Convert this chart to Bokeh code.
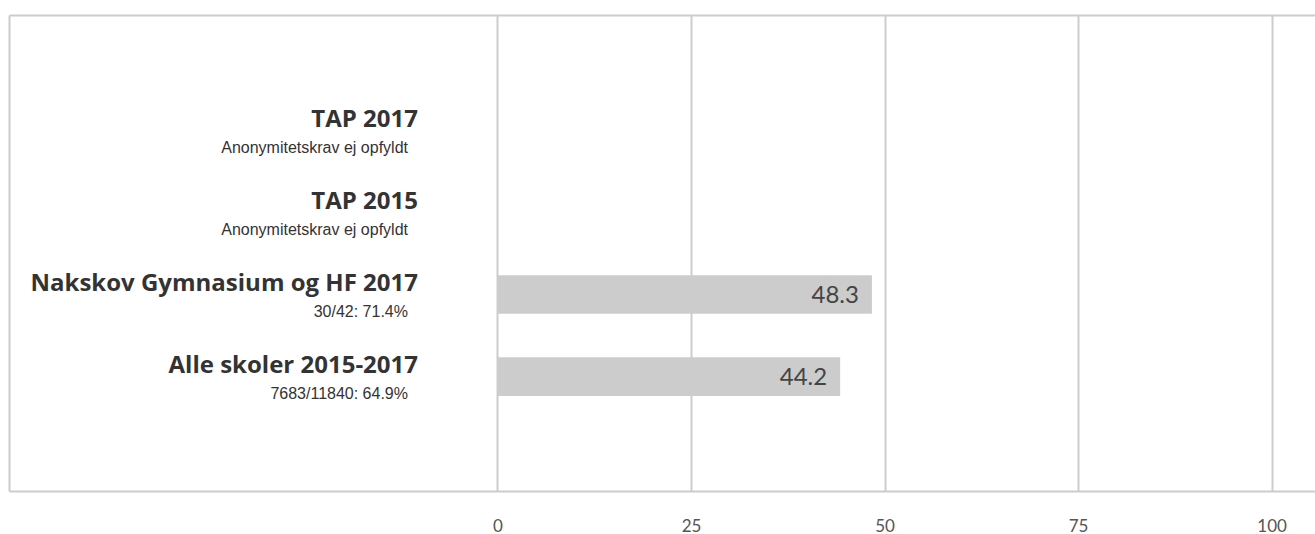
from bokeh.plotting import figure
from bokeh.models import ColumnDataSource, Range1d, LinearAxis, FixedTicker
from bokeh.core.properties import value
from bokeh.embed import file_html
from bokeh.resources import INLINE

categories = ["TAP 2017", "TAP 2015", "Nakskov Gymnasium og HF 2017", "Alle skoler 2015-2017"]
subtitles = ["Anonymitetskrav ej opfyldt", "Anonymitetskrav ej opfyldt", "30/42: 71.4%", "7683/11840: 64.9%"]
scores = [None, None, 48.3, 44.2]
x_ticks = [0, 25, 50, 75, 100]

n = len(categories)
ypos = [n - 1 - i for i in range(n)]

label_src = ColumnDataSource(dict(
    x=[0] * n, y=ypos, title=categories, sub=subtitles))
bar_idx = [i for i, v in enumerate(scores) if v is not None]
bar_src = ColumnDataSource(dict(
    y=[ypos[i] for i in bar_idx],
    v=[scores[i] for i in bar_idx],
    lbl=["%.1f" % scores[i] for i in bar_idx]))

p = figure(width=1315, height=534, output_backend="svg", toolbar_location=None,
           x_range=Range1d(-63.1, 105.6), y_range=Range1d(-1.4, n - 1 + 1.4),
           min_border_left=9, min_border_right=0, min_border_top=15, min_border_bottom=0,
           x_axis_location="below", y_axis_location="left")
p.background_fill_color = "white"
p.border_fill_color = "white"
p.outline_line_color = None

# bottom axis
xa = p.xaxis[0]
xa.ticker = FixedTicker(ticks=x_ticks)
xa.axis_line_color = "#cccccc"
xa.axis_line_width = 2
xa.major_tick_line_color = None
xa.minor_tick_line_color = None
xa.major_tick_out = 0
xa.major_tick_in = 0
xa.major_label_standoff = 27
xa.major_label_text_font = "Lato"
xa.major_label_text_font_size = "17px"
xa.major_label_text_color = "#555555"

# left border axis (line only)
ya = p.yaxis[0]
ya.ticker = FixedTicker(ticks=[])
ya.axis_line_color = "#cccccc"
ya.axis_line_width = 2
ya.major_tick_line_color = None
ya.minor_tick_line_color = None
ya.major_tick_out = 0
ya.major_tick_in = 0
ya.major_label_standoff = 0
ya.major_label_text_font_size = "0px"

# top border axis (line only)
top = LinearAxis(ticker=FixedTicker(ticks=[]), axis_line_color="#cccccc", axis_line_width=2,
                 major_tick_line_color=None, minor_tick_line_color=None,
                 major_tick_out=0, major_tick_in=0, major_label_standoff=0,
                 major_label_text_font_size="0px")
p.add_layout(top, "above")

p.xgrid.ticker = FixedTicker(ticks=x_ticks)
p.xgrid.grid_line_color = "#cccccc"
p.xgrid.grid_line_width = 2
p.ygrid.grid_line_color = None

p.hbar(y="y", left=0, right="v", height=0.47, source=bar_src,
       fill_color="#cccccc", line_color=None)
p.text(x="v", y="y", text="lbl", source=bar_src, x_offset=-13,
       text_align="right", text_baseline="middle",
       text_font=value("Lato"), text_font_size="24px", text_color="#444444")

p.text(x="x", y="y", text="title", source=label_src, x_offset=-80, y_offset=-13,
       text_align="right", text_baseline="middle",
       text_font=value("Open Sans"), text_font_style="bold", text_font_size="24px",
       text_color="#333333")
p.text(x="x", y="y", text="sub", source=label_src, x_offset=-90, y_offset=17,
       text_align="right", text_baseline="middle",
       text_font=value("Liberation Sans"), text_font_size="16px", text_color="#333333")

open("out.html", "w").write(file_html(p, INLINE))
